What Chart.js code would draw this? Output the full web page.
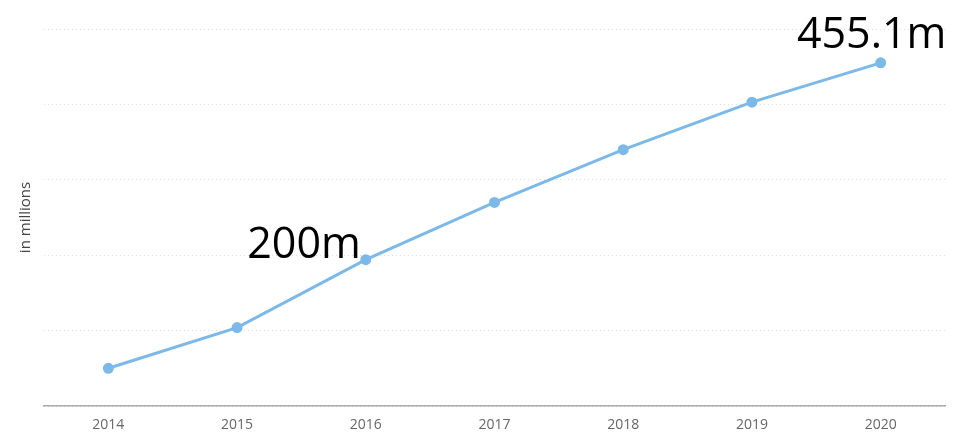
<!DOCTYPE html>
<html>
<head>
<meta charset="utf-8">
<script src="https://cdn.jsdelivr.net/npm/chart.js@4/dist/chart.umd.min.js"></script>
<style>
  html, body { margin: 0; padding: 0; background: #fff; }
  #wrap { width: 962px; height: 436px; }
</style>
</head>
<body>
<div id="wrap"><canvas id="chart" width="962" height="436"></canvas></div>
<script>
  const years = ["2014", "2015", "2016", "2017", "2018", "2019", "2020"];
  const values = [50, 104, 194, 270, 340, 403, 455.1];
  const yTicks = [0, 100, 200, 300, 400, 500];
  // callouts: index into values, text, and offset from point
  const callouts = [
    { index: 2, text: "200m", align: "right", dx: -5, dy: -2 },
    { index: 6, text: "455.1m", align: "center", dx: -9, dy: -15 }
  ];

  const calloutPlugin = {
    id: "callouts",
    afterDatasetsDraw(chart) {
      const ctx = chart.ctx;
      const meta = chart.getDatasetMeta(0);
      ctx.save();
      ctx.font = "43px 'Open Sans', sans-serif";
      ctx.fillStyle = "#000";
      ctx.textBaseline = "alphabetic";
      callouts.forEach(c => {
        const pt = meta.data[c.index];
        ctx.textAlign = c.align;
        ctx.fillText(c.text, pt.x + c.dx, pt.y + c.dy);
      });
      ctx.restore();
    }
  };

  new Chart(document.getElementById("chart"), {
    type: "line",
    data: {
      labels: years,
      datasets: [{
        label: "in millions",
        data: values,
        borderColor: "rgb(124, 185, 232)",
        backgroundColor: "rgb(124, 185, 232)",
        borderWidth: 3,
        pointRadius: 4,
        pointHoverRadius: 4,
        tension: 0,
        fill: false
      }]
    },
    options: {
      responsive: false,
      animation: false,
      layout: { padding: { top: 29, right: 17, left: 0, bottom: 0 } },
      plugins: {
        legend: { display: false },
        tooltip: { enabled: false }
      },
      scales: {
        x: {
          offset: true,
          grid: { display: false, drawTicks: false },
          border: { display: true, color: "#aaa", width: 1.5 },
          ticks: {
            color: "#666",
            padding: 11,
            font: { family: "'Open Sans', sans-serif", size: 14 }
          },
          afterFit(scale) { scale.height = 30; }
        },
        y: {
          min: yTicks[0],
          max: yTicks[yTicks.length - 1],
          afterBuildTicks(scale) { scale.ticks = yTicks.map(v => ({ value: v })); },
          ticks: { display: false },
          grid: { color: "#ddd", drawTicks: false, lineWidth: 1 },
          border: { display: false, dash: [1, 3] },
          title: {
            display: true,
            text: "in millions",
            color: "#444",
            padding: { top: 17, bottom: 0 },
            font: { family: "'Open Sans', sans-serif", size: 15 }
          },
          afterFit(scale) { scale.width = 44; }
        }
      }
    },
    plugins: [calloutPlugin]
  });
</script>
</body>
</html>
